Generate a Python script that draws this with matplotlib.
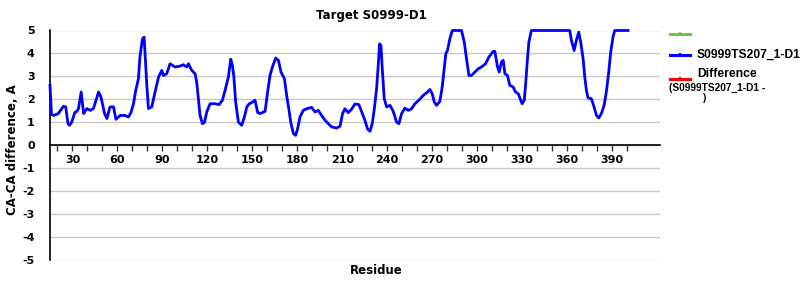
import matplotlib
matplotlib.use('Agg')
import matplotlib.pyplot as plt

plt.rcParams['font.family'] = 'DejaVu Sans'
plt.rcParams['font.weight'] = 'bold'

title = 'Target S0999-D1'
model = 'S0999TS207_1-D1'

# residue number vs CA-CA distance (A)
residue = [15, 16, 17.5, 20.5, 24, 25.5, 27, 28, 29.5, 31.5, 33, 34, 35.8, 37.4,
           39.6, 41.8, 44, 47.4, 49, 51.4, 53, 55, 57.4, 59, 61.8, 65, 67.4, 69,
           70.7, 72.2, 74, 75, 76.7, 77.8, 78.5, 79.6, 80.7, 82.9, 85.1, 87.4,
           89.6, 90.7, 92.9, 95.1, 98.5, 101.8, 104, 106.2, 107.4, 109.6, 111.8,
           112.9, 114, 115.1, 116.7, 118, 119.6, 121.8, 125.1, 127.8, 130, 131.8,
           134, 135.6, 136.7, 137.6, 138.9, 140.7, 142.9, 144.7, 146.3, 147.8,
           149.6, 151.8, 153.6, 155.1, 158.5, 160.2, 161.8, 163.4, 165.6, 167.4,
           169.1, 171.4, 172.9, 174.5, 175.6, 177.4, 178.9, 180.2, 181.8, 184,
           186.2, 189.6, 191.8, 194, 196.2, 198.5, 200.7, 202.9, 206.2, 208.5,
           210.2, 211.8, 214, 216.2, 218.5, 221.1, 223.4, 225.1, 226.9, 228.5,
           230, 231.4, 232.9, 234, 234.9, 235.8, 236.7, 238, 239.6, 241.8, 244,
           246.2, 247.8, 249.6, 251.8, 254, 256.2, 258.5, 261.1, 264, 266.9,
           268.5, 270, 271.4, 272.9, 275.1, 276.7, 278, 279.1, 280.2, 281.8,
           283.4, 289.6, 291.4, 292.9, 294.5, 296.2, 298.5, 300.7, 302.9, 305.6,
           307.8, 310.7, 311.8, 313.6, 314.7, 316.2, 317.4, 318.5, 320.2, 321.8,
           324, 325.6, 327.4, 329.1, 330, 331.4, 332.3, 333.4, 334.5, 336.2,
           361.8, 362.9, 364.7, 366.2, 367.8, 369.1, 370.7, 371.8, 372.9, 374,
           376.2, 378, 379.6, 381.1, 382.9, 384.7, 386.2, 387.8, 389.1, 390.7,
           391.8, 400.7]
distance = [2.61, 1.33, 1.3, 1.38, 1.7, 1.67, 0.94, 0.87, 1.01, 1.42, 1.48, 1.6,
            2.32, 1.38, 1.6, 1.52, 1.6, 2.32, 2.1, 1.38, 1.16, 1.67, 1.67, 1.13,
            1.3, 1.3, 1.23, 1.42, 1.81, 2.39, 2.9, 3.84, 4.64, 4.71, 3.91, 2.61,
            1.6, 1.67, 2.32, 2.97, 3.26, 3.04, 3.12, 3.55, 3.41, 3.45, 3.51, 3.41,
            3.55, 3.26, 3.12, 2.75, 2.03, 1.3, 0.94, 0.99, 1.45, 1.81, 1.81, 1.77,
            1.96, 2.39, 2.97, 3.75, 3.48, 3.04, 1.88, 1.01, 0.87, 1.23, 1.67, 1.8,
            1.86, 1.96, 1.42, 1.38, 1.48, 2.32, 3.04, 3.41, 3.8, 3.7, 3.19, 2.9,
            2.17, 1.52, 1.01, 0.51, 0.43, 0.72, 1.23, 1.52, 1.59, 1.65, 1.45, 1.52,
            1.3, 1.09, 0.94, 0.8, 0.75, 0.83, 1.38, 1.59, 1.42, 1.57, 1.8, 1.77,
            1.38, 1.09, 0.7, 0.61, 0.94, 1.59, 2.46, 3.48, 4.42, 4.35, 3.33, 2.03,
            1.67, 1.74, 1.48, 1.01, 0.94, 1.38, 1.62, 1.52, 1.59, 1.81, 1.96, 2.17,
            2.32, 2.43, 2.25, 1.88, 1.74, 1.91, 2.54, 3.33, 3.99, 4.13, 4.64, 5, 5,
            4.49, 3.77, 3.04, 3.04, 3.19, 3.33, 3.41, 3.55, 3.84, 4.09, 4.09, 3.41,
            3.19, 3.62, 3.7, 3.12, 3.04, 2.61, 2.54, 2.32, 2.25, 1.96, 1.81, 1.96,
            2.61, 3.62, 4.49, 5, 5, 4.57, 4.13, 4.57, 4.93, 4.49, 3.77, 2.97, 2.39,
            2.06, 2.03, 1.67, 1.3, 1.19, 1.38, 1.74, 2.32, 3.19, 4.06, 4.74, 5, 5]

xticks = list(range(20, 401, 10))
xlabels = [str(t) if t % 30 == 0 else '' for t in xticks]
yticks = list(range(-5, 6))
ylabels = [str(t) for t in yticks]

fig = plt.figure(figsize=(8, 3), dpi=100)
ax = fig.add_axes([50/800, 40/300, 610/800, 229.5/300])

ax.plot(residue, distance, color='#0000ff', lw=2, zorder=3, clip_on=False)

ax.set_xlim(15, 422)
ax.set_ylim(-5, 5)
ax.set_yticks(yticks)
ax.set_yticklabels(ylabels)
ax.set_xticks(xticks)
ax.set_xticklabels(xlabels)
ax.yaxis.grid(True, color='#c8c8c8', lw=1)
ax.set_axisbelow(True)
for s in ['top', 'right']:
    ax.spines[s].set_visible(False)
ax.spines['bottom'].set_position(('data', 0))
ax.spines['bottom'].set_zorder(4)
ax.spines['left'].set_linewidth(1.2)
ax.spines['bottom'].set_linewidth(1.2)
ax.tick_params(axis='y', length=0, pad=11, labelsize=8)
ax.tick_params(axis='x', length=4, width=1, direction='out', pad=3, labelsize=8,
               color='#333333')

fig.text(371/800, 1 - 15/300, title, ha='center', va='center', fontsize=8.5)
fig.text(13/800, 1 - 150/300, 'CA-CA difference, A', rotation=90,
         ha='center', va='center', fontsize=8.5)
fig.text(376/800, 1 - 270/300, 'Residue', ha='center', va='center', fontsize=8.5)

# legend on the right
lax = fig.add_axes([0, 0, 1, 1])
lax.set_xlim(0, 800)
lax.set_ylim(300, 0)
lax.axis('off')
lfont = dict(family='Liberation Sans', weight='bold')
for yy, col in [(34, '#66cc44'), (55, '#0000ff'), (79, '#ff0000')]:
    lax.plot([670, 690], [yy, yy], color=col, lw=2.2)
    lax.plot([680], [yy], marker='|', color=col, ms=3, mew=1.5)
lax.text(697, 55, model, ha='left', va='center', fontsize=8.7, **lfont)
lax.text(697, 74, 'Difference', ha='left', va='center', fontsize=8.7, **lfont)
lax.text(669, 87.5, '(' + model + ' -', ha='left', va='center', fontsize=7.3, **lfont)
lax.text(703, 98, ')', ha='left', va='center', fontsize=7.3, **lfont)

fig.savefig('out.png', dpi=100)
